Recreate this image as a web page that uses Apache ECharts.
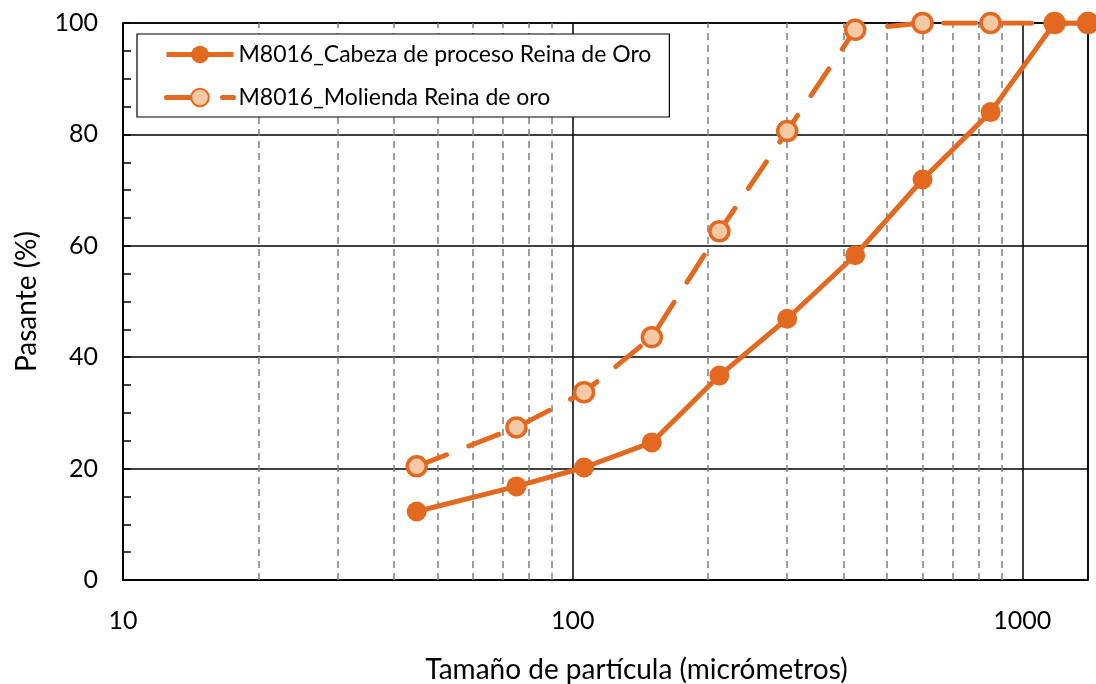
<!DOCTYPE html>
<html><head><meta charset="utf-8">
<script src="https://cdn.jsdelivr.net/npm/echarts@6/dist/echarts.min.js"></script>
<style>html,body{margin:0;padding:0;background:#fff}#c{width:1096px;height:684px}</style>
</head><body><div id="c"></div>
<script>
const sizes = [45, 75, 106, 150, 212, 300, 425, 600, 850, 1180, 1400];
const cabeza = [12.3, 16.8, 20.2, 24.7, 36.7, 46.9, 58.3, 71.9, 84.0, 100, 100];
const molienda = [20.4, 27.4, 33.7, 43.6, 62.6, 80.6, 98.8, 100, 100, 100, 100];
const minorGridX = [20, 30, 40, 50, 60, 70, 80, 90, 200, 300, 400, 500, 600, 700, 800, 900];
const seriesNames = ['M8016_Cabeza de proceso Reina de Oro', 'M8016_Molienda Reina de oro'];
const yTicks = [0, 20, 40, 60, 80, 100];
const xTicks = [10, 100, 1000];

const ORANGE = '#E2691F';
const FONT = 'Lato';
const chart = echarts.init(document.getElementById('c'), null, {renderer: 'canvas'});
chart.setOption({
  animation: false,
  backgroundColor: '#fff',
  textStyle: {fontFamily: FONT},
  grid: {left: 123, right: 8, top: 23, bottom: 104, show: true, borderColor: '#000', borderWidth: 1.5,
    containLabel: false, outerBoundsMode: 'none'},
  legend: {
    orient: 'vertical', left: 137, top: 34,
    padding: [9, 18, 8, 27], itemGap: 20,
    itemWidth: 67, itemHeight: 22,
    backgroundColor: '#fff', borderColor: '#000', borderWidth: 1.2, borderRadius: 0,
    textStyle: {fontFamily: FONT, fontSize: 23, color: '#000'},
    data: [
      {name: seriesNames[0], lineStyle: {width: 5}},
      {name: seriesNames[1], lineStyle: {width: 5}}
    ]
  },
  xAxis: {
    type: 'log', logBase: 10, min: xTicks[0], max: 1400,
    name: 'Tamaño de partícula (micrómetros)', nameLocation: 'middle', nameGap: 76,
    nameTextStyle: {fontFamily: FONT, fontSize: 28, color: '#000', padding: [0, 0, 0, 62]},
    axisLine: {show: true, lineStyle: {color: '#000', width: 1.5}},
    axisTick: {show: false},
    axisLabel: {fontFamily: FONT, fontSize: 25, color: '#000', margin: 28, showMaxLabel: false,
      formatter: v => (xTicks.indexOf(Math.round(v)) >= 0 ? String(Math.round(v)) : '')},
    splitLine: {show: true, lineStyle: {color: '#000', width: 1.5}}
  },
  yAxis: {
    type: 'value', min: yTicks[0], max: yTicks[yTicks.length - 1], interval: 20,
    name: 'Pasante (%)', nameLocation: 'middle', nameGap: 82,
    nameTextStyle: {fontFamily: FONT, fontSize: 28, color: '#000'},
    axisLine: {show: true, lineStyle: {color: '#000', width: 1.5}},
    axisTick: {show: true, inside: true, length: 8, lineStyle: {color: '#000', width: 1.5}},
    minorTick: {show: true, splitNumber: 4, length: 8, lineStyle: {color: '#000', width: 1.5}},
    axisLabel: {fontFamily: FONT, fontSize: 25, color: '#000', margin: 25},
    splitLine: {show: true, lineStyle: {color: '#000', width: 1.5}}
  },
  series: [
    {
      name: seriesNames[1], type: 'line', z: 3,
      data: sizes.map((s, i) => [s, molienda[i]]),
      symbol: 'circle', symbolSize: 19,
      lineStyle: {color: ORANGE, width: 5, type: [32, 24], cap: 'round'},
      itemStyle: {color: '#F5C9A6', borderColor: ORANGE, borderWidth: 3.5},
      markLine: {
        silent: true, symbol: ['none', 'none'], label: {show: false}, z: 1,
        lineStyle: {color: '#7f7f7f', width: 1.5, type: [7, 5]},
        emphasis: {disabled: true},
        data: minorGridX.map(v => ({xAxis: v}))
      }
    },
    {
      name: seriesNames[0], type: 'line', z: 4,
      data: sizes.map((s, i) => [s, cabeza[i]]),
      symbol: 'circle', symbolSize: 20,
      lineStyle: {color: ORANGE, width: 5},
      itemStyle: {color: ORANGE, borderColor: ORANGE, borderWidth: 0}
    }
  ]
});
</script></body></html>
